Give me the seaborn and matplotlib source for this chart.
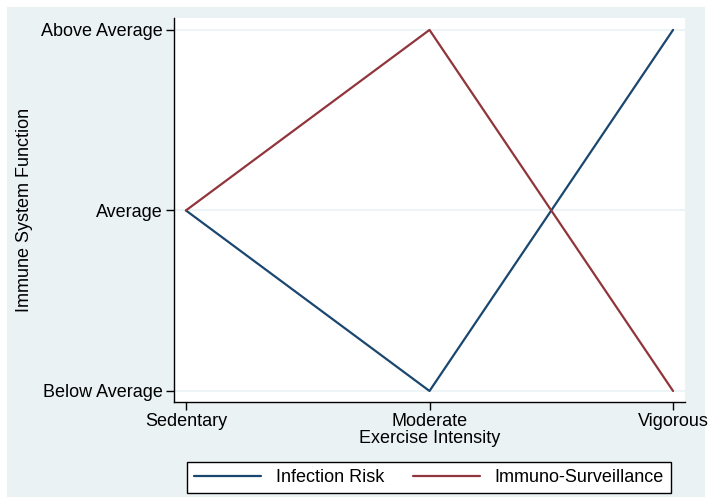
import pandas as pd
import matplotlib.pyplot as plt
import matplotlib.patches as patches
import seaborn as sns

# data (0 = Below Average, 1 = Average, 2 = Above Average)
intensity = ["Sedentary", "Moderate", "Vigorous"]
infection_risk = [1, 0, 2]
immuno_surveillance = [1, 2, 0]
level_labels = ["Below Average", "Average", "Above Average"]

df = pd.DataFrame({
    "Exercise Intensity": intensity * 2,
    "Immune System Function": infection_risk + immuno_surveillance,
    "series": ["Infection Risk"] * 3 + ["Immuno-Surveillance"] * 3,
})

sns.set_style("white")
plt.rcParams['font.family'] = ['Liberation Sans', 'DejaVu Sans']
plt.rcParams['text.color'] = 'black'
plt.rcParams['axes.labelcolor'] = 'black'
plt.rcParams['xtick.color'] = 'black'
plt.rcParams['ytick.color'] = 'black'

fs = 13

fig = plt.figure(figsize=(7.14, 5.04), dpi=100, facecolor="white")
# stata-like outer background panel
fig.patches.append(patches.Rectangle((7 / 714, 7 / 504), 698 / 714, 490 / 504,
                                     transform=fig.transFigure, facecolor="#eaf2f3",
                                     edgecolor="none", zorder=-5))

ax = fig.add_axes([174 / 714, 1 - 402 / 504, 511 / 714, 384 / 504])
ax.set_facecolor("white")

palette = {"Infection Risk": "#1a476f", "Immuno-Surveillance": "#90353b"}
sns.lineplot(data=df, x="Exercise Intensity", y="Immune System Function",
             hue="series", palette=palette, linewidth=1.6, ax=ax, sort=False)

ax.set_xlim(-0.049, 2.049)
ax.set_ylim(-0.061, 2.066)
ax.set_yticks([0, 1, 2])
ax.set_yticklabels(level_labels)
ax.yaxis.grid(True, color="#eaf2f3", linewidth=1.2)
ax.set_axisbelow(True)

for s in ["top", "right"]:
    ax.spines[s].set_visible(False)
for s in ["left", "bottom"]:
    ax.spines[s].set_color("black")
    ax.spines[s].set_linewidth(1.0)

ax.tick_params(axis="both", direction="out", length=6, width=1, color="black",
               labelsize=fs, pad=2, left=True, bottom=True)
ax.set_xlabel("Exercise Intensity", fontsize=fs, labelpad=0)
ax.set_ylabel("Immune System Function", fontsize=fs, labelpad=6)

ax.legend_.remove()
handles, labels = ax.get_legend_handles_labels()
leg = fig.legend(handles, labels, loc="center", bbox_to_anchor=(429 / 714, 1 - 477.5 / 504),
                 ncol=2, frameon=True, fancybox=False, edgecolor="black", facecolor="white",
                 framealpha=1, fontsize=fs, handlelength=3.7, columnspacing=1.6,
                 borderpad=0.4, handletextpad=0.8)
leg.get_frame().set_linewidth(1.0)

fig.savefig("out.png", dpi=100, facecolor="white")
